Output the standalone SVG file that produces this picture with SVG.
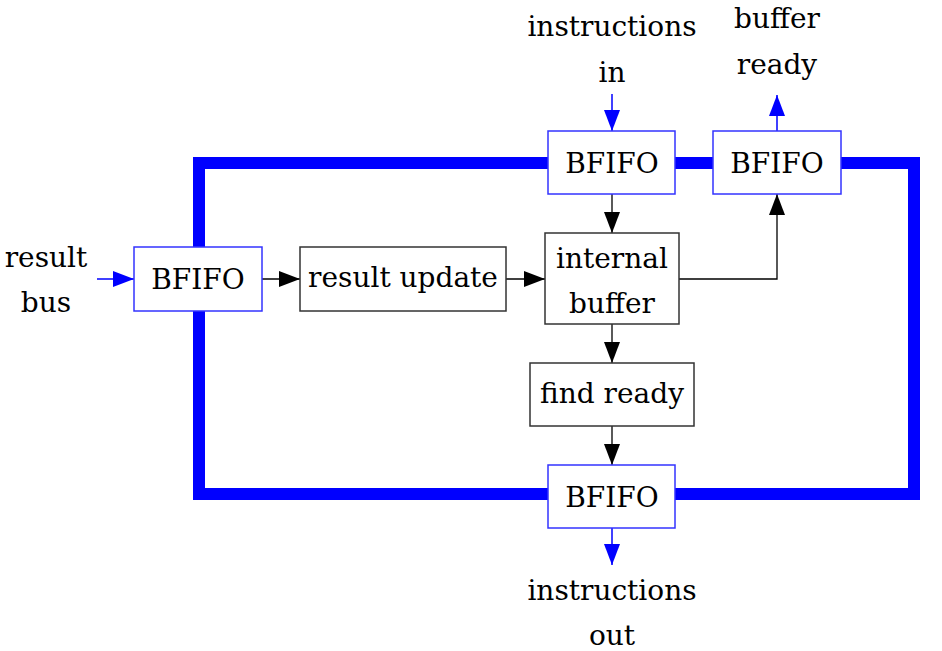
<svg xmlns="http://www.w3.org/2000/svg" width="942" height="651" viewBox="0 0 942 651">
<style>
text{font-family:"DejaVu Serif","Liberation Serif",serif;font-size:28px;fill:#000;text-anchor:middle}
.bb{fill:#fff;stroke:#3333ff;stroke-width:1.5}
.kb{fill:#fff;stroke:#333;stroke-width:1.5}
.k{stroke:#000;stroke-width:1.3;fill:none}
.b{stroke:#0000ff;stroke-width:1.5;fill:none}
.thick{stroke:#0000ff;stroke-width:12;fill:none}
</style>
<defs>
<marker id="ak" viewBox="0 0 21 16" refX="21" refY="8" markerWidth="21" markerHeight="16" markerUnits="userSpaceOnUse" orient="auto"><path d="M0,0 L21,8 L0,16 z" fill="#000"/></marker>
<marker id="ab" viewBox="0 0 21 16" refX="21" refY="8" markerWidth="21" markerHeight="16" markerUnits="userSpaceOnUse" orient="auto"><path d="M0,0 L21,8 L0,16 z" fill="#0000ff"/></marker>
</defs>
<g id="connectors">
<path class="thick" d="M199,163 H914 V494 H199 Z"/>
<line class="b" x1="612" y1="94" x2="612" y2="131" marker-end="url(#ab)"/>
<line class="b" x1="777" y1="131" x2="777" y2="95" marker-end="url(#ab)"/>
<line class="b" x1="97" y1="279" x2="134" y2="279" marker-end="url(#ab)"/>
<line class="k" x1="262" y1="279" x2="300" y2="279" marker-end="url(#ak)"/>
<line class="k" x1="506" y1="279" x2="545" y2="279" marker-end="url(#ak)"/>
<line class="k" x1="612" y1="194" x2="612" y2="233" marker-end="url(#ak)"/>
<path class="k" d="M679,279 H777 V194" marker-end="url(#ak)"/>
<line class="k" x1="612" y1="324" x2="612" y2="363" marker-end="url(#ak)"/>
<line class="k" x1="612" y1="426" x2="612" y2="465" marker-end="url(#ak)"/>
<line class="b" x1="612" y1="528" x2="612" y2="565" marker-end="url(#ab)"/>
</g>
<g id="bfifo-in"><rect class="bb" x="548" y="131" width="127" height="63"/><text x="612" y="173">BFIFO</text></g>
<g id="bfifo-ready"><rect class="bb" x="713" y="131" width="128" height="63"/><text x="777" y="173">BFIFO</text></g>
<g id="bfifo-result"><rect class="bb" x="134" y="247" width="128" height="64"/><text x="198" y="289">BFIFO</text></g>
<g id="result-update"><rect class="kb" x="300" y="247" width="206" height="64"/><text x="403" y="287">result update</text></g>
<g id="internal-buffer"><rect class="kb" x="545" y="233" width="134" height="91"/><text x="612" y="268">internal</text><text x="612" y="313">buffer</text></g>
<g id="find-ready"><rect class="kb" x="530" y="363" width="164" height="63"/><text x="612" y="403">find ready</text></g>
<g id="bfifo-out"><rect class="bb" x="548" y="465" width="127" height="63"/><text x="612" y="507">BFIFO</text></g>
<g id="labels">
<text x="612" y="36">instructions</text><text x="612" y="82">in</text>
<text x="777" y="28">buffer</text><text x="777" y="74">ready</text>
<text x="46" y="267">result</text><text x="46" y="312">bus</text>
<text x="612" y="600">instructions</text><text x="612" y="645">out</text>
</g>
</svg>
